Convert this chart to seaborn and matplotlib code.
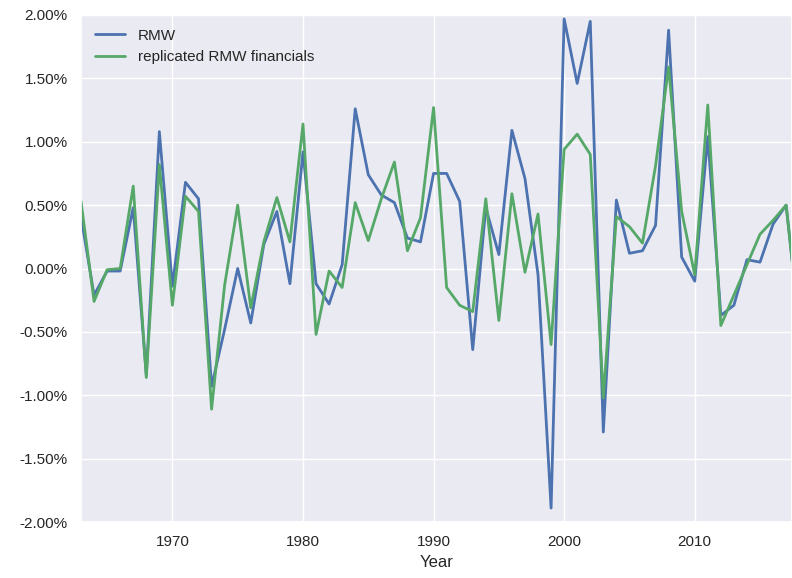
import numpy as np
import pandas as pd
import matplotlib
matplotlib.use("Agg")
import matplotlib.pyplot as plt
import seaborn as sns
from matplotlib.ticker import FuncFormatter, MultipleLocator

years = list(range(1963, 2019))

rmw = [0.41, -0.21, -0.02, -0.02, 0.48, -0.84, 1.08, -0.14, 0.68, 0.55,
       -0.93, -0.48, 0.00, -0.43, 0.19, 0.45, -0.12, 0.92, -0.12, -0.28,
       0.03, 1.26, 0.74, 0.58, 0.52, 0.24, 0.21, 0.75, 0.75, 0.53,
       -0.64, 0.48, 0.11, 1.09, 0.71, -0.05, -1.89, 1.97, 1.46, 1.95,
       -1.29, 0.54, 0.12, 0.14, 0.34, 1.88, 0.09, -0.10, 1.04, -0.37,
       -0.29, 0.07, 0.05, 0.35, 0.50, -0.45]

replicated = [0.53, -0.26, -0.01, 0.00, 0.65, -0.86, 0.82, -0.29, 0.57, 0.45,
              -1.11, -0.13, 0.50, -0.31, 0.21, 0.56, 0.21, 1.14, -0.52, -0.02,
              -0.15, 0.52, 0.22, 0.55, 0.84, 0.14, 0.40, 1.27, -0.15, -0.29,
              -0.34, 0.55, -0.41, 0.59, -0.03, 0.43, -0.60, 0.94, 1.06, 0.90,
              -1.02, 0.41, 0.33, 0.20, 0.81, 1.59, 0.45, -0.05, 1.29, -0.45,
              -0.21, 0.03, 0.27, 0.38, 0.50, -0.45]

series_names = ["RMW", "replicated RMW financials"]
colors = ["#4C72B0", "#55A868"]

sns.set_theme(style="darkgrid", context="notebook")
plt.rcParams["font.family"] = ["Liberation Sans", "DejaVu Sans"]

df = pd.DataFrame({"Year": years, series_names[0]: rmw, series_names[1]: replicated})

fig = plt.figure(figsize=(7.92, 5.78), dpi=100)
ax = fig.add_axes([81 / 792, 56 / 578, 1 - 81 / 792, (522 - 15) / 578])

for name, c in zip(series_names, colors):
    sns.lineplot(data=df, x="Year", y=name, ax=ax, color=c, label=name, linewidth=2.0)

ax.set_xlim(1963, 2017.45)
ax.set_ylim(-2.0, 2.0)
ax.yaxis.set_major_locator(MultipleLocator(0.5))
ax.xaxis.set_major_locator(MultipleLocator(10))
ax.yaxis.set_major_formatter(FuncFormatter(lambda v, p: f"{v:.2f}%"))
ax.set_ylabel("")
ax.set_xlabel("Year", fontsize=12)
ax.tick_params(labelsize=11)
ax.legend(loc="upper left", frameon=False, fontsize=11)

fig.savefig("out.png", dpi=100)
